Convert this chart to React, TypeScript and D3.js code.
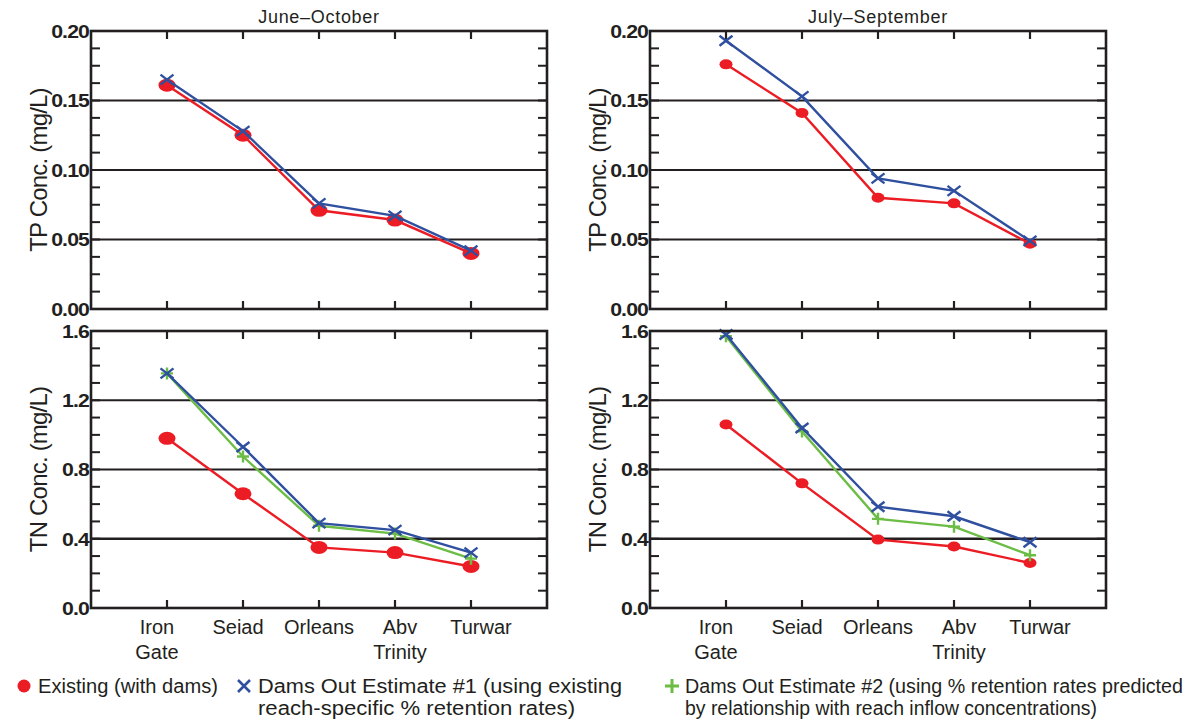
import React from 'react';
import * as d3 from 'd3';

// sites along the river
const sites = ['Iron Gate', 'Seiad', 'Orleans', 'Abv Trinity', 'Turwar'];
const siteLines = [['Iron', 'Gate'], ['Seiad'], ['Orleans'], ['Abv', 'Trinity'], ['Turwar']];

const periods = ['June–October', 'July–September'];

// TP concentrations (mg/L)
const tpExistingJunOct = [0.161, 0.125, 0.071, 0.064, 0.040];
const tpEst1JunOct = [0.165, 0.128, 0.076, 0.067, 0.042];
const tpExistingJulSep = [0.176, 0.141, 0.080, 0.076, 0.047];
const tpEst1JulSep = [0.193, 0.153, 0.094, 0.085, 0.049];

// TN concentrations (mg/L)
const tnExistingJunOct = [0.98, 0.66, 0.35, 0.32, 0.24];
const tnEst1JunOct = [1.355, 0.93, 0.49, 0.45, 0.32];
const tnEst2JunOct = [1.355, 0.875, 0.475, 0.43, 0.285];
const tnExistingJulSep = [1.06, 0.72, 0.395, 0.355, 0.26];
const tnEst1JulSep = [1.58, 1.04, 0.585, 0.53, 0.38];
const tnEst2JulSep = [1.57, 1.02, 0.515, 0.47, 0.305];

const tpTicks = [0, 0.05, 0.1, 0.15, 0.2];
const tnTicks = [0, 0.4, 0.8, 1.2, 1.6];

const legendLabels = [
  ['Existing (with dams)'],
  ['Dams Out Estimate #1 (using existing', 'reach-specific % retention rates)'],
  ['Dams Out Estimate #2 (using % retention rates predicted', 'by relationship with reach inflow concentrations)'],
];

const RED = '#ec1c24';
const BLUE = '#2f4f9f';
const GREEN = '#6cbd45';
const INK = '#231f20';
const FONT = '"Liberation Sans", Arial, Helvetica, sans-serif';

type Series = { values: number[]; kind: 'dot' | 'x' | 'plus' };

interface PanelProps {
  left: number;
  right: number;
  top: number;
  bottom: number;
  max: number;
  ticks: number[];
  fmt: (v: number) => string;
  series: Series[];
  dotR: [number, number];
  showX: boolean;
  yLabel: string;
}

const Panel: React.FC<PanelProps> = ({ left, right, top, bottom, max, ticks, fmt, series, dotR, showX, yLabel }) => {
  const x = d3.scaleLinear().domain([-1, sites.length]).range([left, right]);
  const y = d3.scaleLinear().domain([0, max]).range([bottom, top]);
  const minor = d3.range(0, max + 1e-9, max / 16);
  const line = d3
    .line<number>()
    .x((_, i) => x(i))
    .y((d) => y(d));
  const colorOf = (k: Series['kind']) => (k === 'dot' ? RED : k === 'x' ? BLUE : GREEN);

  return (
    <g>
      {/* gridlines at major ticks */}
      {ticks.slice(1, -1).map((t) => (
        <line key={'g' + t} x1={left} x2={right} y1={y(t)} y2={y(t)} stroke={INK} strokeWidth={t === 0.4 ? 2.6 : 1.8} />
      ))}
      {/* minor ticks left and right */}
      {minor.map((t, i) => (
        <g key={'m' + i}>
          <line x1={left} x2={left + 9} y1={y(t)} y2={y(t)} stroke={INK} strokeWidth={2} />
          <line x1={right} x2={right - 9} y1={y(t)} y2={y(t)} stroke={INK} strokeWidth={2} />
        </g>
      ))}
      {/* category ticks top and bottom */}
      {sites.map((s, i) => (
        <g key={'t' + s}>
          <line x1={x(i)} x2={x(i)} y1={top} y2={top + 8} stroke={INK} strokeWidth={2.2} />
          <line x1={x(i)} x2={x(i)} y1={bottom} y2={bottom - 8} stroke={INK} strokeWidth={2.2} />
        </g>
      ))}
      {/* y tick labels */}
      {ticks.map((t) => (
        <text
          key={'l' + t}
          transform={`translate(${left - 2},${y(t)}) scale(1.12,1)`}
          dy="0.36em"
          textAnchor="end"
          fontFamily={FONT}
          fontSize={19}
          fontWeight={700}
          letterSpacing={-0.8}
          fill={INK}
        >
          {fmt(t)}
        </text>
      ))}
      {/* y axis title */}
      <text
        transform={`translate(${left - 53},${(top + bottom) / 2}) rotate(-90)`}
        textAnchor="middle"
        dy="0.36em"
        fontFamily={FONT}
        fontSize={24}
        letterSpacing={-0.8}
        fill={INK}
      >
        {yLabel}
      </text>
      {/* series */}
      {series.map((s, si) => (
        <g key={'s' + si}>
          <path d={line(s.values) || ''} fill="none" stroke={colorOf(s.kind)} strokeWidth={2.4} />
          {s.values.map((v, i) => {
            const cx = x(i);
            const cy = y(v);
            if (s.kind === 'dot')
              return <ellipse key={i} cx={cx} cy={cy} rx={dotR[0]} ry={dotR[1]} fill={RED} />;
            if (s.kind === 'x')
              return (
                <path
                  key={i}
                  d={`M${cx - 6.5},${cy - 5}L${cx + 6.5},${cy + 5}M${cx - 6.5},${cy + 5}L${cx + 6.5},${cy - 5}`}
                  stroke={BLUE}
                  strokeWidth={2.4}
                />
              );
            return (
              <path key={i} d={`M${cx - 6},${cy}L${cx + 6},${cy}M${cx},${cy - 6}L${cx},${cy + 6}`} stroke={GREEN} strokeWidth={2.4} />
            );
          })}
        </g>
      ))}
      {/* frame */}
      <rect x={left} y={top} width={right - left} height={bottom - top} fill="none" stroke={INK} strokeWidth={2.6} />
      {/* category labels */}
      {showX &&
        siteLines.map((ls, i) => (
          <text key={'c' + i} y={bottom + 26} textAnchor="middle" fontFamily={FONT} fontSize={20} fill={INK}>
            {ls.map((l, j) => (
              <tspan key={j} x={x(i) + (i - 2) * 5} dy={j === 0 ? 0 : 25}>
                {l}
              </tspan>
            ))}
          </text>
        ))}
    </g>
  );
};

const fmtTP = (v: number) => d3.format('.2f')(v);
const fmtTN = (v: number) => d3.format('.1f')(v);

const App: React.FC = () => {
  const cols = [
    { left: 91, right: 547 },
    { left: 650, right: 1106 },
  ];
  const tp = [
    [tpExistingJunOct, tpEst1JunOct],
    [tpExistingJulSep, tpEst1JulSep],
  ];
  const tn = [
    [tnExistingJunOct, tnEst1JunOct, tnEst2JunOct],
    [tnExistingJulSep, tnEst1JulSep, tnEst2JulSep],
  ];
  const dotSizes: [number, number][] = [
    [8.5, 6.5],
    [6.5, 5],
  ];
  // legend text widths as they appear in the figure
  const legendWidths = [[180], [364, 317], [498, 412]];

  return (
    <svg width={1188} height={721} style={{ position: 'absolute', left: 0, top: 0, background: '#fff' }}>
      {cols.map((c, ci) => (
        <g key={ci}>
          <text
            x={(c.left + c.right) / 2}
            y={23}
            textAnchor="middle"
            fontFamily={FONT}
            fontSize={18}
            letterSpacing={0.7}
            fill={INK}
          >
            {periods[ci]}
          </text>
          <Panel
            left={c.left}
            right={c.right}
            top={31}
            bottom={309}
            max={0.2}
            ticks={tpTicks}
            fmt={fmtTP}
            series={[
              { values: tp[ci][0], kind: 'dot' },
              { values: tp[ci][1], kind: 'x' },
            ]}
            dotR={dotSizes[ci]}
            showX={false}
            yLabel="TP Conc. (mg/L)"
          />
          <Panel
            left={c.left}
            right={c.right}
            top={331}
            bottom={608}
            max={1.6}
            ticks={tnTicks}
            fmt={fmtTN}
            series={[
              { values: tn[ci][0], kind: 'dot' },
              { values: tn[ci][2], kind: 'plus' },
              { values: tn[ci][1], kind: 'x' },
            ]}
            dotR={dotSizes[ci]}
            showX={true}
            yLabel="TN Conc. (mg/L)"
          />
        </g>
      ))}
      {/* legend */}
      <g fontFamily={FONT} fontSize={19.5} fill={INK}>
        <circle cx={24} cy={686} r={6.5} fill={RED} />
        <path d="M238,680L250,692M238,692L250,680" stroke={BLUE} strokeWidth={2.6} />
        <path d="M665,686L679,686M672,679L672,693" stroke={GREEN} strokeWidth={3} />
        {legendLabels.map((ls, li) =>
          ls.map((l, j) => (
            <text
              key={li + '-' + j}
              x={[38, 258, 685][li]}
              y={693 + j * 22}
              textLength={legendWidths[li][j]}
              lengthAdjust="spacingAndGlyphs"
            >
              {l}
            </text>
          ))
        )}
      </g>
    </svg>
  );
};

export default App;
